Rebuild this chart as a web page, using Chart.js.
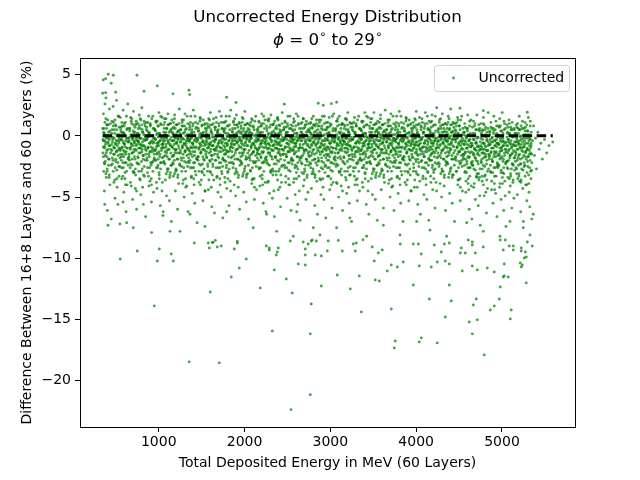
<!DOCTYPE html>
<html>
<head>
<meta charset="utf-8">
<script src="https://cdn.jsdelivr.net/npm/chart.js@4.4.1/dist/chart.umd.min.js"></script>
<style>
  body { margin: 0; background: #fff; }
  canvas { display: block; }
</style>
</head>
<body>
<canvas id="mycanvas" width="640" height="480"></canvas>
<script>
// axis ticks
var xTicks = [1000, 2000, 3000, 4000, 5000];
var yTicks = [5, 0, -5, -10, -15, -20];

var titleText = ['Uncorrected Energy Distribution', '\u03d5 = 0\u00b0 to 29\u00b0'];
var seriesLabel = 'Uncorrected';
var refLevel = 0;

// band, read in 100 MeV slices (energy in MeV, difference in %)
var bandEnergy = [
  347,349,352,355,358,362,366,370,373,377,381,384,388,392,396,401,405,410,414,419,425,431,438,446,
  451,455,459,464,468,473,477,481,486,490,494,498,503,507,511,516,520,524,529,533,537,540,544,547,
  552,556,561,565,569,574,578,582,585,589,593,597,602,606,610,614,619,623,627,631,636,639,643,648,
  653,657,662,666,671,675,679,683,688,692,696,701,705,709,713,718,722,726,730,735,738,742,745,749,
  751,755,759,764,768,773,777,781,786,790,794,798,803,807,811,816,820,824,829,833,837,840,844,847,
  852,856,861,865,869,874,878,882,885,889,893,897,902,906,910,914,919,923,927,931,936,939,943,948,
  953,957,962,966,971,975,979,983,988,992,996,1001,1005,1009,1013,1018,1022,1026,1030,1035,1038,1042,1045,1049,
  1051,1055,1059,1064,1068,1073,1077,1081,1086,1090,1094,1098,1103,1107,1111,1116,1120,1124,1129,1133,1137,1140,1144,1147,
  1152,1156,1161,1165,1169,1174,1178,1182,1185,1189,1193,1197,1202,1206,1210,1214,1219,1223,1227,1231,1236,1239,1243,1248,
  1253,1257,1262,1266,1271,1275,1279,1283,1288,1292,1296,1301,1305,1309,1313,1318,1322,1326,1330,1335,1338,1342,1345,1349,
  1351,1355,1359,1364,1368,1373,1377,1381,1386,1390,1394,1398,1403,1407,1411,1416,1420,1424,1429,1433,1437,1440,1444,1447,
  1452,1456,1461,1465,1469,1474,1478,1482,1485,1489,1493,1497,1502,1506,1510,1514,1519,1523,1527,1531,1536,1539,1543,1548,
  1553,1557,1562,1566,1571,1575,1579,1583,1588,1592,1596,1601,1605,1609,1613,1618,1622,1626,1630,1635,1638,1642,1645,1649,
  1651,1655,1659,1664,1668,1673,1677,1681,1686,1690,1694,1698,1703,1707,1711,1716,1720,1724,1729,1733,1737,1740,1744,1747,
  1752,1756,1761,1765,1769,1774,1778,1782,1785,1789,1793,1797,1802,1806,1810,1814,1819,1823,1827,1831,1836,1839,1843,1848,
  1853,1857,1862,1866,1871,1875,1879,1883,1888,1892,1896,1901,1905,1909,1913,1918,1922,1926,1930,1935,1938,1942,1945,1949,
  1951,1955,1959,1964,1968,1973,1977,1981,1986,1990,1994,1998,2003,2007,2011,2016,2020,2024,2029,2033,2037,2040,2044,2047,
  2052,2056,2061,2065,2069,2074,2078,2082,2085,2089,2093,2097,2102,2106,2110,2114,2119,2123,2127,2131,2136,2139,2143,2148,
  2153,2157,2162,2166,2171,2175,2179,2183,2188,2192,2196,2201,2205,2209,2213,2218,2222,2226,2230,2235,2238,2242,2245,2249,
  2251,2255,2259,2264,2268,2273,2277,2281,2286,2290,2294,2298,2303,2307,2311,2316,2320,2324,2329,2333,2337,2340,2344,2347,
  2352,2356,2361,2365,2369,2374,2378,2382,2385,2389,2393,2397,2402,2406,2410,2414,2419,2423,2427,2431,2436,2439,2443,2448,
  2453,2457,2462,2466,2471,2475,2479,2483,2488,2492,2496,2501,2505,2509,2513,2518,2522,2526,2530,2535,2538,2542,2545,2549,
  2551,2555,2559,2564,2568,2573,2577,2581,2586,2590,2594,2598,2603,2607,2611,2616,2620,2624,2629,2633,2637,2640,2644,2647,
  2652,2656,2661,2665,2669,2674,2678,2682,2685,2689,2693,2697,2702,2706,2710,2714,2719,2723,2727,2731,2736,2739,2743,2748,
  2753,2757,2762,2766,2771,2775,2779,2783,2788,2792,2796,2801,2805,2809,2813,2818,2822,2826,2830,2835,2838,2842,2845,2849,
  2851,2855,2859,2864,2868,2873,2877,2881,2886,2890,2894,2898,2903,2907,2911,2916,2920,2924,2929,2933,2937,2940,2944,2947,
  2952,2956,2961,2965,2969,2974,2978,2982,2985,2989,2993,2997,3002,3006,3010,3014,3019,3023,3027,3031,3036,3039,3043,3048,
  3053,3057,3062,3066,3071,3075,3079,3083,3088,3092,3096,3101,3105,3109,3113,3118,3122,3126,3130,3135,3138,3142,3145,3149,
  3151,3155,3159,3164,3168,3173,3177,3181,3186,3190,3194,3198,3203,3207,3211,3216,3220,3224,3229,3233,3237,3240,3244,3247,
  3252,3256,3261,3265,3269,3274,3278,3282,3285,3289,3293,3297,3302,3306,3310,3314,3319,3323,3327,3331,3336,3339,3343,3348,
  3353,3357,3362,3366,3371,3375,3379,3383,3388,3392,3396,3401,3405,3409,3413,3418,3422,3426,3430,3435,3438,3442,3445,3449,
  3451,3455,3459,3464,3468,3473,3477,3481,3486,3490,3494,3498,3503,3507,3511,3516,3520,3524,3529,3533,3537,3540,3544,3547,
  3552,3556,3561,3565,3569,3574,3578,3582,3585,3589,3593,3597,3602,3606,3610,3614,3619,3623,3627,3631,3636,3639,3643,3648,
  3653,3657,3662,3666,3671,3675,3679,3683,3688,3692,3696,3701,3705,3709,3713,3718,3722,3726,3730,3735,3738,3742,3745,3749,
  3751,3755,3759,3764,3768,3773,3777,3781,3786,3790,3794,3798,3803,3807,3811,3816,3820,3824,3829,3833,3837,3840,3844,3847,
  3852,3856,3861,3865,3869,3874,3878,3882,3885,3889,3893,3897,3902,3906,3910,3914,3919,3923,3927,3931,3936,3939,3943,3948,
  3953,3957,3962,3966,3971,3975,3979,3983,3988,3992,3996,4001,4005,4009,4013,4018,4022,4026,4030,4035,4038,4042,4045,4049,
  4051,4055,4059,4064,4068,4073,4077,4081,4086,4090,4094,4098,4103,4107,4111,4116,4120,4124,4129,4133,4137,4140,4144,4147,
  4152,4156,4161,4165,4169,4174,4178,4182,4185,4189,4193,4197,4202,4206,4210,4214,4219,4223,4227,4231,4236,4239,4243,4248,
  4253,4257,4262,4266,4271,4275,4279,4283,4288,4292,4296,4301,4305,4309,4313,4318,4322,4326,4330,4335,4338,4342,4345,4349,
  4351,4355,4359,4364,4368,4373,4377,4381,4386,4390,4394,4398,4403,4407,4411,4416,4420,4424,4429,4433,4437,4440,4444,4447,
  4452,4456,4461,4465,4469,4474,4478,4482,4485,4489,4493,4497,4502,4506,4510,4514,4519,4523,4527,4531,4536,4539,4543,4548,
  4553,4557,4562,4566,4571,4575,4579,4583,4588,4592,4596,4601,4605,4609,4613,4618,4622,4626,4630,4635,4638,4642,4645,4649,
  4651,4655,4659,4664,4668,4673,4677,4681,4686,4690,4694,4698,4703,4707,4711,4716,4720,4724,4729,4733,4737,4740,4744,4747,
  4752,4756,4761,4765,4769,4774,4778,4782,4785,4789,4793,4797,4802,4806,4810,4814,4819,4823,4827,4831,4836,4839,4843,4848,
  4853,4857,4862,4866,4871,4875,4879,4883,4888,4892,4896,4901,4905,4909,4913,4918,4922,4926,4930,4935,4938,4942,4945,4949,
  4951,4955,4959,4964,4968,4973,4977,4981,4986,4990,4994,4998,5003,5007,5011,5016,5020,5024,5029,5033,5037,5040,5044,5047,
  5052,5056,5061,5065,5069,5074,5078,5082,5085,5089,5093,5097,5102,5106,5110,5114,5119,5123,5127,5131,5136,5139,5143,5148,
  5153,5157,5162,5166,5171,5175,5179,5183,5188,5192,5196,5201,5205,5209,5213,5218,5222,5226,5230,5235,5238,5242,5245,5249,
  5251,5255,5259,5264,5268,5273,5277,5281,5286,5290,5294,5298,5303,5307,5311,5316,5320,5324,5329,5333,5337,5340,5344,5347,
  5356,5368,5379,5391,5402,5418,5433,5452,5470,5496,5521,5548,5592
];
var bandDiff = [
  0.6,-1.4,-0.3,1.8,-2.9,0.2,-4.5,-0.9,2.6,-2.1,-0.5,3.1,-3.4,0.9,-1.7,-6.1,1.3,-0.2,-2.4,-0.8,2.2,-4.0,-1.1,-6.8,
  -0.7,1.2,-2.3,-0.1,2.4,-1.5,-3.8,0.5,-1.0,-5.1,0.9,-1.9,-0.4,2.9,-2.8,0.1,-1.2,-5.6,1.6,-0.6,-3.3,0.7,-2.5,-7.2,
  1.5,-1.0,0.3,-1.7,-3.5,0.8,-0.4,-2.2,2.1,-1.2,-4.6,0.2,-0.7,-3.0,1.1,-1.5,-6.2,-0.2,0.5,-4.0,-1.0,2.6,-2.4,-0.5,
  -1.5,0.6,-0.1,-2.6,1.5,-0.9,-4.1,1.0,-1.9,-0.3,-5.2,0.4,2.0,-1.3,-3.0,-0.6,0.7,-4.3,-1.1,-0.2,1.2,-6.0,-2.2,-0.4,
  0.2,-2.3,1.0,-0.5,-1.4,1.7,-3.5,-0.2,0.6,-4.8,-1.0,-0.8,2.3,-2.7,0.3,-1.6,-5.6,-0.3,1.2,-3.3,-0.9,0.8,-2.0,-6.6,
  -0.3,1.1,-1.8,0.4,-3.0,-0.1,-1.0,1.6,-4.1,0.2,-1.3,-3.7,0.9,-0.5,-2.4,-5.4,1.4,-1.1,0.0,-2.1,-0.6,-4.6,0.6,-1.5,
  0.5,-1.2,-0.3,1.2,-2.6,0.1,-4.3,-0.8,0.8,-1.9,-0.5,1.9,-3.2,0.2,-1.5,-5.7,1.0,-0.1,-2.2,-0.7,1.5,-3.8,-1.0,-6.5,
  -0.6,0.9,-2.1,-0.2,1.4,-1.3,-3.6,0.3,-0.9,-4.9,0.6,-1.7,-0.4,1.8,-2.7,0.0,-1.1,-5.3,1.0,-0.7,-3.0,0.5,-2.4,-7.0,
  1.3,-0.9,0.2,-1.6,-3.3,0.7,-0.4,-2.0,1.7,-1.1,-4.5,0.1,-0.6,-2.8,0.9,-1.4,-6.0,-0.2,0.4,-3.9,-1.0,2.2,-2.3,-0.5,
  -1.4,0.5,-0.1,-2.5,1.3,-0.8,-3.9,0.8,-1.8,-0.3,-5.0,0.3,1.8,-1.2,-2.9,-0.6,0.6,-4.1,-1.0,-0.2,1.0,-6.2,-2.1,-0.4,
  0.1,-2.2,0.9,-0.5,-1.3,1.6,-3.4,-0.2,0.5,-4.7,-1.0,-0.7,2.1,-2.6,0.3,-1.6,-5.5,-0.3,1.1,-3.2,-0.9,0.7,-1.9,-7.1,
  -0.3,1.0,-1.7,0.4,-2.9,-0.1,-0.9,1.5,-4.0,0.2,-1.3,-3.6,0.8,-0.5,-2.3,-5.3,1.3,-1.1,0.0,-2.0,-0.6,-4.5,0.6,-1.5,
  0.4,-1.3,-0.2,1.0,-2.5,0.0,-4.4,-0.9,0.7,-2.0,-0.6,1.9,-3.0,0.3,-1.6,-5.8,0.9,-0.1,-2.3,-0.8,1.4,-3.6,-1.1,-6.3,
  -0.5,0.7,-2.0,-0.3,1.5,-1.2,-3.4,0.4,-0.8,-4.6,0.5,-1.8,-0.4,2.0,-2.6,0.1,-1.0,-5.0,1.1,-0.6,-3.1,0.6,-2.5,-6.7,
  1.1,-0.8,0.3,-1.5,-3.4,0.6,-0.3,-2.1,1.6,-1.2,-4.3,0.0,-0.7,-2.9,0.8,-1.3,-5.7,-0.1,0.5,-3.7,-0.9,2.1,-2.2,-0.6,
  -1.3,0.4,-0.2,-2.6,1.2,-0.7,-4.0,0.9,-1.9,-0.4,-4.9,0.2,1.7,-1.1,-3.0,-0.5,0.7,-4.2,-1.0,-0.1,1.1,-6.0,-2.0,-0.3,
  0.2,-2.1,0.8,-0.6,-1.4,1.5,-3.3,-0.1,0.4,-4.6,-1.1,-0.8,2.0,-2.5,0.2,-1.7,-5.4,-0.2,1.0,-3.1,-0.8,0.6,-1.8,-6.8,
  -0.4,0.9,-1.6,0.3,-2.8,-0.2,-0.8,1.4,-3.9,0.1,-1.4,-3.5,0.7,-0.6,-2.2,-5.2,1.2,-1.0,0.0,-2.1,-0.5,-4.4,0.5,-1.4,
  0.3,-1.1,-0.4,1.2,-2.7,0.1,-4.1,-0.7,0.8,-1.8,-0.4,1.8,-3.2,0.3,-1.4,-5.5,1.0,-0.2,-2.1,-0.6,1.3,-3.8,-0.9,-6.2,
  -0.7,0.8,-2.2,-0.1,1.3,-1.4,-3.7,0.2,-1.0,-4.7,0.7,-1.6,-0.3,1.7,-2.8,0.0,-1.2,-5.1,0.9,-0.8,-2.9,0.4,-2.3,-6.6,
  1.2,-1.0,0.1,-1.7,-3.2,0.6,-0.5,-2.0,1.5,-1.1,-4.4,0.2,-0.6,-2.7,0.8,-1.5,-5.8,-0.3,0.4,-3.8,-1.1,1.9,-2.4,-0.4,
  -1.5,0.5,-0.2,-2.4,1.2,-0.9,-3.8,0.7,-1.7,-0.3,-5.1,0.3,1.6,-1.3,-2.8,-0.7,0.6,-4.0,-1.1,-0.1,0.9,-6.1,-2.0,-0.5,
  0.0,-2.3,0.8,-0.4,-1.2,1.4,-3.5,-0.3,0.5,-4.8,-0.9,-0.6,1.8,-2.5,0.2,-1.7,-5.6,-0.2,1.0,-3.3,-1.0,0.6,-2.0,-6.9,
  -0.2,1.0,-1.8,0.3,-3.0,-0.1,-1.0,1.4,-4.1,0.1,-1.2,-3.6,0.7,-0.4,-2.4,-5.2,1.2,-1.2,0.0,-2.1,-0.7,-4.6,0.5,-1.6,
  0.4,-1.3,-0.3,1.0,-2.6,0.2,-4.3,-0.8,0.7,-2.0,-0.5,1.6,-3.1,0.1,-1.5,-5.7,0.8,-0.1,-2.2,-0.7,1.3,-3.7,-1.0,-6.4,
  -0.6,0.8,-2.1,-0.2,1.3,-1.3,-3.5,0.3,-0.9,-4.8,0.6,-1.8,-0.4,1.6,-2.7,0.0,-1.1,-5.2,1.0,-0.7,-3.0,0.5,-2.4,-6.7,
  1.1,-0.9,0.2,-1.6,-3.3,0.7,-0.4,-2.0,1.5,-1.1,-4.4,0.1,-0.6,-2.8,0.9,-1.4,-5.9,-0.2,0.4,-3.8,-1.0,1.8,-2.3,-0.5,
  -1.4,0.5,-0.1,-2.5,1.2,-0.8,-3.9,0.8,-1.8,-0.3,-5.0,0.3,1.6,-1.2,-2.9,-0.6,0.6,-4.1,-1.0,-0.2,1.0,-6.1,-2.1,-0.4,
  0.1,-2.2,0.9,-0.5,-1.3,1.4,-3.4,-0.2,0.5,-4.7,-1.0,-0.7,1.9,-2.6,0.3,-1.6,-5.5,-0.3,1.1,-3.2,-0.9,0.7,-1.9,-7.0,
  -0.3,1.0,-1.7,0.4,-2.9,-0.1,-0.9,1.5,-4.0,0.2,-1.3,-3.6,0.8,-0.5,-2.3,-5.3,1.3,-1.1,0.0,-2.0,-0.6,-4.5,0.6,-1.5,
  0.5,-1.2,-0.3,1.2,-2.6,0.1,-4.2,-0.8,0.7,-1.9,-0.5,1.9,-3.1,0.2,-1.5,-5.6,0.9,-0.1,-2.2,-0.7,1.5,-3.7,-1.0,-6.4,
  -0.6,0.8,-2.1,-0.2,1.4,-1.3,-3.5,0.3,-0.9,-4.8,0.6,-1.7,-0.4,1.9,-2.7,0.0,-1.1,-5.2,1.0,-0.7,-3.0,0.5,-2.4,-6.9,
  1.2,-0.9,0.2,-1.6,-3.3,0.7,-0.4,-2.0,1.7,-1.1,-4.4,0.1,-0.6,-2.8,0.9,-1.4,-5.9,-0.2,0.4,-3.8,-1.0,2.1,-2.3,-0.5,
  -1.4,0.5,-0.1,-2.5,1.3,-0.8,-3.9,0.8,-1.8,-0.3,-5.0,0.3,1.8,-1.2,-2.9,-0.6,0.6,-4.1,-1.0,-0.2,1.0,-6.1,-2.1,-0.4,
  0.1,-2.2,0.9,-0.5,-1.3,1.6,-3.4,-0.2,0.5,-4.7,-1.0,-0.7,2.0,-2.6,0.3,-1.6,-5.5,-0.3,1.1,-3.2,-0.9,0.7,-1.9,-7.0,
  -0.3,1.0,-1.7,0.4,-2.9,-0.1,-0.9,1.5,-4.0,0.2,-1.3,-3.6,0.8,-0.5,-2.3,-5.3,1.3,-1.1,0.0,-2.0,-0.6,-4.5,0.6,-1.5,
  0.4,-1.2,-0.3,1.1,-2.6,0.1,-4.2,-0.8,0.7,-1.9,-0.5,2.0,-3.1,0.2,-1.5,-5.6,0.9,-0.1,-2.2,-0.7,1.5,-3.7,-1.0,-6.4,
  -0.6,0.8,-2.1,-0.2,1.4,-1.3,-3.5,0.3,-0.9,-4.8,0.6,-1.7,-0.4,1.9,-2.7,0.0,-1.1,-5.2,1.0,-0.7,-3.0,0.5,-2.4,-6.9,
  1.2,-0.9,0.2,-1.6,-3.3,0.7,-0.4,-2.0,1.7,-1.1,-4.4,0.1,-0.6,-2.8,0.9,-1.4,-5.9,-0.2,0.4,-3.8,-1.0,2.3,-2.3,-0.5,
  -1.4,0.5,-0.1,-2.5,1.3,-0.8,-3.9,0.8,-1.8,-0.3,-5.0,0.3,1.8,-1.2,-2.9,-0.6,0.6,-4.1,-1.0,-0.2,1.0,-6.1,-2.1,-0.4,
  0.1,-2.2,0.9,-0.5,-1.3,1.6,-3.4,-0.2,0.5,-4.7,-1.0,-0.7,2.2,-2.6,0.3,-1.6,-5.5,-0.3,1.1,-3.2,-0.9,0.7,-1.9,-7.0,
  -0.3,1.0,-1.7,0.4,-2.9,-0.1,-0.9,1.5,-4.0,0.2,-1.3,-3.6,0.8,-0.5,-2.3,-5.3,1.3,-1.1,0.0,-2.0,-0.6,-4.5,0.6,-1.5,
  0.3,-1.5,-0.4,1.0,-2.9,0.0,-4.6,-1.0,0.6,-2.3,-0.7,1.7,-3.5,0.1,-1.8,-6.0,0.8,-0.3,-2.6,-0.9,1.3,-4.1,-1.3,-6.8,
  -0.8,0.7,-2.4,-0.3,1.2,-1.6,-3.9,0.2,-1.1,-5.2,0.5,-2.0,-0.6,1.7,-3.1,-0.1,-1.4,-5.7,0.9,-0.9,-3.4,0.4,-2.7,-7.3,
  1.0,-1.1,0.1,-1.9,-3.7,0.5,-0.6,-2.4,1.5,-1.4,-4.9,0.0,-0.8,-3.2,0.7,-1.7,-6.3,-0.4,0.3,-4.3,-1.2,1.9,-2.7,-0.7,
  -1.7,0.4,-0.3,-2.9,1.1,-1.0,-4.4,0.6,-2.1,-0.5,-5.5,0.2,1.6,-1.5,-3.3,-0.8,0.5,-4.7,-1.3,-0.3,0.8,-6.6,-2.5,-0.6,
  -0.1,-2.6,0.8,-0.7,-1.6,1.4,-3.9,-0.4,0.4,-5.2,-1.2,-0.9,1.9,-3.0,0.2,-1.9,-6.1,-0.5,1.0,-3.7,-1.1,0.6,-2.3,-7.4,
  -0.5,0.9,-2.1,0.3,-3.4,-0.3,-1.2,1.3,-4.6,0.1,-1.6,-4.1,0.7,-0.7,-2.7,-5.9,1.1,-1.4,-0.1,-2.4,-0.8,-5.1,0.5,-1.8,
  0.2,-1.6,-0.5,0.9,-3.1,-0.1,-4.8,-1.1,0.6,-2.4,-0.7,1.6,-3.7,0.0,-1.9,-6.2,0.8,-0.3,-2.7,-1.0,1.2,-4.3,-1.3,-7.0,
  -0.9,0.6,-2.5,-0.4,1.1,-1.7,-4.0,0.1,-1.2,-5.3,0.4,-2.1,-0.6,1.5,-3.2,-0.2,-1.5,-5.8,0.8,-1.0,-3.5,0.3,-2.8,-6.8,
  -0.4,0.8,-1.6,-0.2,-2.7,0.3,-1.1,-0.6,-1.9,-0.3,-1.4,-0.8,-0.5
];

// core of the band, read in 200 MeV slices
var coreEnergy = [
  354,359,363,367,372,376,381,384,391,395,399,404,408,412,417,421,425,431,438,445,450,458,460,469,470,477,480,487,489,497,500,506,510,515,518,527,532,536,541,546,
  554,559,563,567,572,576,581,584,591,595,599,604,608,612,617,621,625,631,638,645,650,658,660,669,670,677,680,687,689,697,700,706,710,715,718,727,732,736,741,746,
  754,759,763,767,772,776,781,784,791,795,799,804,808,812,817,821,825,831,838,845,850,858,860,869,870,877,880,887,889,897,900,906,910,915,918,927,932,936,941,946,
  954,959,963,967,972,976,981,984,991,995,999,1004,1008,1012,1017,1021,1025,1031,1038,1045,1050,1058,1060,1069,1070,1077,1080,1087,1089,1097,1100,1106,1110,1115,1118,1127,1132,1136,1141,1146,
  1154,1159,1163,1167,1172,1176,1181,1184,1191,1195,1199,1204,1208,1212,1217,1221,1225,1231,1238,1245,1250,1258,1260,1269,1270,1277,1280,1287,1289,1297,1300,1306,1310,1315,1318,1327,1332,1336,1341,1346,
  1354,1359,1363,1367,1372,1376,1381,1384,1391,1395,1399,1404,1408,1412,1417,1421,1425,1431,1438,1445,1450,1458,1460,1469,1470,1477,1480,1487,1489,1497,1500,1506,1510,1515,1518,1527,1532,1536,1541,1546,
  1554,1559,1563,1567,1572,1576,1581,1584,1591,1595,1599,1604,1608,1612,1617,1621,1625,1631,1638,1645,1650,1658,1660,1669,1670,1677,1680,1687,1689,1697,1700,1706,1710,1715,1718,1727,1732,1736,1741,1746,
  1754,1759,1763,1767,1772,1776,1781,1784,1791,1795,1799,1804,1808,1812,1817,1821,1825,1831,1838,1845,1850,1858,1860,1869,1870,1877,1880,1887,1889,1897,1900,1906,1910,1915,1918,1927,1932,1936,1941,1946,
  1954,1959,1963,1967,1972,1976,1981,1984,1991,1995,1999,2004,2008,2012,2017,2021,2025,2031,2038,2045,2050,2058,2060,2069,2070,2077,2080,2087,2089,2097,2100,2106,2110,2115,2118,2127,2132,2136,2141,2146,
  2154,2159,2163,2167,2172,2176,2181,2184,2191,2195,2199,2204,2208,2212,2217,2221,2225,2231,2238,2245,2250,2258,2260,2269,2270,2277,2280,2287,2289,2297,2300,2306,2310,2315,2318,2327,2332,2336,2341,2346,
  2354,2359,2363,2367,2372,2376,2381,2384,2391,2395,2399,2404,2408,2412,2417,2421,2425,2431,2438,2445,2450,2458,2460,2469,2470,2477,2480,2487,2489,2497,2500,2506,2510,2515,2518,2527,2532,2536,2541,2546,
  2554,2559,2563,2567,2572,2576,2581,2584,2591,2595,2599,2604,2608,2612,2617,2621,2625,2631,2638,2645,2650,2658,2660,2669,2670,2677,2680,2687,2689,2697,2700,2706,2710,2715,2718,2727,2732,2736,2741,2746,
  2754,2759,2763,2767,2772,2776,2781,2784,2791,2795,2799,2804,2808,2812,2817,2821,2825,2831,2838,2845,2850,2858,2860,2869,2870,2877,2880,2887,2889,2897,2900,2906,2910,2915,2918,2927,2932,2936,2941,2946,
  2954,2959,2963,2967,2972,2976,2981,2984,2991,2995,2999,3004,3008,3012,3017,3021,3025,3031,3038,3045,3050,3058,3060,3069,3070,3077,3080,3087,3089,3097,3100,3106,3110,3115,3118,3127,3132,3136,3141,3146,
  3154,3159,3163,3167,3172,3176,3181,3184,3191,3195,3199,3204,3208,3212,3217,3221,3225,3231,3238,3245,3250,3258,3260,3269,3270,3277,3280,3287,3289,3297,3300,3306,3310,3315,3318,3327,3332,3336,3341,3346,
  3354,3359,3363,3367,3372,3376,3381,3384,3391,3395,3399,3404,3408,3412,3417,3421,3425,3431,3438,3445,3450,3458,3460,3469,3470,3477,3480,3487,3489,3497,3500,3506,3510,3515,3518,3527,3532,3536,3541,3546,
  3554,3559,3563,3567,3572,3576,3581,3584,3591,3595,3599,3604,3608,3612,3617,3621,3625,3631,3638,3645,3650,3658,3660,3669,3670,3677,3680,3687,3689,3697,3700,3706,3710,3715,3718,3727,3732,3736,3741,3746,
  3754,3759,3763,3767,3772,3776,3781,3784,3791,3795,3799,3804,3808,3812,3817,3821,3825,3831,3838,3845,3850,3858,3860,3869,3870,3877,3880,3887,3889,3897,3900,3906,3910,3915,3918,3927,3932,3936,3941,3946,
  3954,3959,3963,3967,3972,3976,3981,3984,3991,3995,3999,4004,4008,4012,4017,4021,4025,4031,4038,4045,4050,4058,4060,4069,4070,4077,4080,4087,4089,4097,4100,4106,4110,4115,4118,4127,4132,4136,4141,4146,
  4154,4159,4163,4167,4172,4176,4181,4184,4191,4195,4199,4204,4208,4212,4217,4221,4225,4231,4238,4245,4250,4258,4260,4269,4270,4277,4280,4287,4289,4297,4300,4306,4310,4315,4318,4327,4332,4336,4341,4346,
  4354,4359,4363,4367,4372,4376,4381,4384,4391,4395,4399,4404,4408,4412,4417,4421,4425,4431,4438,4445,4450,4458,4460,4469,4470,4477,4480,4487,4489,4497,4500,4506,4510,4515,4518,4527,4532,4536,4541,4546,
  4554,4559,4563,4567,4572,4576,4581,4584,4591,4595,4599,4604,4608,4612,4617,4621,4625,4631,4638,4645,4650,4658,4660,4669,4670,4677,4680,4687,4689,4697,4700,4706,4710,4715,4718,4727,4732,4736,4741,4746,
  4754,4759,4763,4767,4772,4776,4781,4784,4791,4795,4799,4804,4808,4812,4817,4821,4825,4831,4838,4845,4850,4858,4860,4869,4870,4877,4880,4887,4889,4897,4900,4906,4910,4915,4918,4927,4932,4936,4941,4946,
  4954,4959,4963,4967,4972,4976,4981,4984,4991,4995,4999,5004,5008,5012,5017,5021,5025,5031,5038,5045,5050,5058,5060,5069,5070,5077,5080,5087,5089,5097,5100,5106,5110,5115,5118,5127,5132,5136,5141,5146,
  5154,5159,5163,5167,5172,5176,5181,5184,5191,5195,5199,5204,5208,5212,5217,5221,5225,5231,5238,5245,5250,5258,5260,5269,5270,5277,5280,5287,5289,5297,5300,5306,5310,5315,5318,5327,5332,5336,5341,5346
];
var coreDiff = [
  -0.9,0.3,-2.2,-0.4,1.1,-1.6,-0.1,-3.1,0.6,-1.2,-2.7,0.0,-0.6,0.9,-1.9,-3.4,-0.3,0.4,-1.4,-2.4,0.2,-1.8,-0.5,-2.9,0.8,-1.0,-0.2,-3.6,1.3,-0.7,-2.1,-1.3,0.5,-4.2,-0.8,-1.6,0.1,-2.5,-0.4,-1.1,
  -1.5,-0.3,0.7,-2.6,-1.0,-0.1,-3.3,0.3,-1.7,-0.6,1.0,-2.2,-0.9,-4.0,0.0,-1.3,-2.9,0.6,-0.5,-1.9,-0.2,-2.0,0.4,-1.1,-3.8,-0.6,1.2,-1.4,-2.4,-0.1,-0.8,-3.0,0.2,-1.7,-0.4,-2.7,0.9,-1.2,-4.5,-0.7,
  0.2,-1.8,-0.5,-2.9,0.8,-1.0,-0.2,-3.6,1.3,-0.7,-2.1,-1.3,0.5,-4.2,-0.8,-1.6,0.1,-2.5,-0.4,-1.1,-1.5,-0.3,0.7,-2.6,-1.0,-0.1,-3.3,0.3,-1.7,-0.6,1.0,-2.2,-0.9,-4.0,0.0,-1.3,-2.9,0.6,-0.5,-1.9,
  -0.2,-2.0,0.4,-1.1,-3.8,-0.6,1.2,-1.4,-2.4,-0.1,-0.8,-3.0,0.2,-1.7,-0.4,-2.7,0.9,-1.2,-4.5,-0.7,-0.9,0.3,-2.2,-0.4,1.1,-1.6,-0.1,-3.1,0.6,-1.2,-2.7,0.0,-0.6,0.9,-1.9,-3.4,-0.3,0.4,-1.4,-2.4,
  -0.9,0.3,-2.2,-0.4,1.1,-1.6,-0.1,-3.1,0.6,-1.2,-2.7,0.0,-0.6,0.9,-1.9,-3.4,-0.3,0.4,-1.4,-2.4,0.2,-1.8,-0.5,-2.9,0.8,-1.0,-0.2,-3.6,1.3,-0.7,-2.1,-1.3,0.5,-4.2,-0.8,-1.6,0.1,-2.5,-0.4,-1.1,
  -1.5,-0.3,0.7,-2.6,-1.0,-0.1,-3.3,0.3,-1.7,-0.6,1.0,-2.2,-0.9,-4.0,0.0,-1.3,-2.9,0.6,-0.5,-1.9,-0.2,-2.0,0.4,-1.1,-3.8,-0.6,1.2,-1.4,-2.4,-0.1,-0.8,-3.0,0.2,-1.7,-0.4,-2.7,0.9,-1.2,-4.5,-0.7,
  0.2,-1.8,-0.5,-2.9,0.8,-1.0,-0.2,-3.6,1.3,-0.7,-2.1,-1.3,0.5,-4.2,-0.8,-1.6,0.1,-2.5,-0.4,-1.1,-1.5,-0.3,0.7,-2.6,-1.0,-0.1,-3.3,0.3,-1.7,-0.6,1.0,-2.2,-0.9,-4.0,0.0,-1.3,-2.9,0.6,-0.5,-1.9,
  -0.2,-2.0,0.4,-1.1,-3.8,-0.6,1.2,-1.4,-2.4,-0.1,-0.8,-3.0,0.2,-1.7,-0.4,-2.7,0.9,-1.2,-4.5,-0.7,-0.9,0.3,-2.2,-0.4,1.1,-1.6,-0.1,-3.1,0.6,-1.2,-2.7,0.0,-0.6,0.9,-1.9,-3.4,-0.3,0.4,-1.4,-2.4,
  -0.9,0.3,-2.2,-0.4,1.1,-1.6,-0.1,-3.1,0.6,-1.2,-2.7,0.0,-0.6,0.9,-1.9,-3.4,-0.3,0.4,-1.4,-2.4,0.2,-1.8,-0.5,-2.9,0.8,-1.0,-0.2,-3.6,1.3,-0.7,-2.1,-1.3,0.5,-4.2,-0.8,-1.6,0.1,-2.5,-0.4,-1.1,
  -1.5,-0.3,0.7,-2.6,-1.0,-0.1,-3.3,0.3,-1.7,-0.6,1.0,-2.2,-0.9,-4.0,0.0,-1.3,-2.9,0.6,-0.5,-1.9,-0.2,-2.0,0.4,-1.1,-3.8,-0.6,1.2,-1.4,-2.4,-0.1,-0.8,-3.0,0.2,-1.7,-0.4,-2.7,0.9,-1.2,-4.5,-0.7,
  0.2,-1.8,-0.5,-2.9,0.8,-1.0,-0.2,-3.6,1.3,-0.7,-2.1,-1.3,0.5,-4.2,-0.8,-1.6,0.1,-2.5,-0.4,-1.1,-1.5,-0.3,0.7,-2.6,-1.0,-0.1,-3.3,0.3,-1.7,-0.6,1.0,-2.2,-0.9,-4.0,0.0,-1.3,-2.9,0.6,-0.5,-1.9,
  -0.2,-2.0,0.4,-1.1,-3.8,-0.6,1.2,-1.4,-2.4,-0.1,-0.8,-3.0,0.2,-1.7,-0.4,-2.7,0.9,-1.2,-4.5,-0.7,-0.9,0.3,-2.2,-0.4,1.1,-1.6,-0.1,-3.1,0.6,-1.2,-2.7,0.0,-0.6,0.9,-1.9,-3.4,-0.3,0.4,-1.4,-2.4,
  -0.9,0.3,-2.2,-0.4,1.1,-1.6,-0.1,-3.1,0.6,-1.2,-2.7,0.0,-0.6,0.9,-1.9,-3.4,-0.3,0.4,-1.4,-2.4,0.2,-1.8,-0.5,-2.9,0.8,-1.0,-0.2,-3.6,1.3,-0.7,-2.1,-1.3,0.5,-4.2,-0.8,-1.6,0.1,-2.5,-0.4,-1.1,
  -1.5,-0.3,0.7,-2.6,-1.0,-0.1,-3.3,0.3,-1.7,-0.6,1.0,-2.2,-0.9,-4.0,0.0,-1.3,-2.9,0.6,-0.5,-1.9,-0.2,-2.0,0.4,-1.1,-3.8,-0.6,1.2,-1.4,-2.4,-0.1,-0.8,-3.0,0.2,-1.7,-0.4,-2.7,0.9,-1.2,-4.5,-0.7,
  0.2,-1.8,-0.5,-2.9,0.8,-1.0,-0.2,-3.6,1.3,-0.7,-2.1,-1.3,0.5,-4.2,-0.8,-1.6,0.1,-2.5,-0.4,-1.1,-1.5,-0.3,0.7,-2.6,-1.0,-0.1,-3.3,0.3,-1.7,-0.6,1.0,-2.2,-0.9,-4.0,0.0,-1.3,-2.9,0.6,-0.5,-1.9,
  -0.2,-2.0,0.4,-1.1,-3.8,-0.6,1.2,-1.4,-2.4,-0.1,-0.8,-3.0,0.2,-1.7,-0.4,-2.7,0.9,-1.2,-4.5,-0.7,-0.9,0.3,-2.2,-0.4,1.1,-1.6,-0.1,-3.1,0.6,-1.2,-2.7,0.0,-0.6,0.9,-1.9,-3.4,-0.3,0.4,-1.4,-2.4,
  -0.9,0.3,-2.2,-0.4,1.1,-1.6,-0.1,-3.1,0.6,-1.2,-2.7,0.0,-0.6,0.9,-1.9,-3.4,-0.3,0.4,-1.4,-2.4,0.2,-1.8,-0.5,-2.9,0.8,-1.0,-0.2,-3.6,1.3,-0.7,-2.1,-1.3,0.5,-4.2,-0.8,-1.6,0.1,-2.5,-0.4,-1.1,
  -1.5,-0.3,0.7,-2.6,-1.0,-0.1,-3.3,0.3,-1.7,-0.6,1.0,-2.2,-0.9,-4.0,0.0,-1.3,-2.9,0.6,-0.5,-1.9,-0.2,-2.0,0.4,-1.1,-3.8,-0.6,1.2,-1.4,-2.4,-0.1,-0.8,-3.0,0.2,-1.7,-0.4,-2.7,0.9,-1.2,-4.5,-0.7,
  0.2,-1.8,-0.5,-2.9,0.8,-1.0,-0.2,-3.6,1.3,-0.7,-2.1,-1.3,0.5,-4.2,-0.8,-1.6,0.1,-2.5,-0.4,-1.1,-1.5,-0.3,0.7,-2.6,-1.0,-0.1,-3.3,0.3,-1.7,-0.6,1.0,-2.2,-0.9,-4.0,0.0,-1.3,-2.9,0.6,-0.5,-1.9,
  -0.2,-2.0,0.4,-1.1,-3.8,-0.6,1.2,-1.4,-2.4,-0.1,-0.8,-3.0,0.2,-1.7,-0.4,-2.7,0.9,-1.2,-4.5,-0.7,-0.9,0.3,-2.2,-0.4,1.1,-1.6,-0.1,-3.1,0.6,-1.2,-2.7,0.0,-0.6,0.9,-1.9,-3.4,-0.3,0.4,-1.4,-2.4,
  -0.9,0.3,-2.2,-0.4,1.1,-1.6,-0.1,-3.1,0.6,-1.2,-2.7,0.0,-0.6,0.9,-1.9,-3.4,-0.3,0.4,-1.4,-2.4,0.2,-1.8,-0.5,-2.9,0.8,-1.0,-0.2,-3.6,1.3,-0.7,-2.1,-1.3,0.5,-4.2,-0.8,-1.6,0.1,-2.5,-0.4,-1.1,
  -1.9,-0.7,0.3,-3.0,-1.4,-0.5,-3.7,-0.1,-2.1,-1.0,0.6,-2.6,-1.3,-4.4,-0.4,-1.7,-3.3,0.2,-0.9,-2.3,-0.6,-2.4,0.0,-1.5,-4.2,-1.0,0.8,-1.8,-2.8,-0.5,-1.2,-3.4,-0.2,-2.1,-0.8,-3.1,0.5,-1.6,-4.9,-1.1,
  -0.2,-2.2,-0.9,-3.3,0.4,-1.4,-0.6,-4.0,0.9,-1.1,-2.5,-1.7,0.1,-4.6,-1.2,-2.0,-0.3,-2.9,-0.8,-1.5,-1.9,-0.7,0.3,-3.0,-1.4,-0.5,-3.7,-0.1,-2.1,-1.0,0.6,-2.6,-1.3,-4.4,-0.4,-1.7,-3.3,0.2,-0.9,-2.3,
  -0.6,-2.4,0.0,-1.5,-4.2,-1.0,0.8,-1.8,-2.8,-0.5,-1.2,-3.4,-0.2,-2.1,-0.8,-3.1,0.5,-1.6,-4.9,-1.1,-1.3,-0.1,-2.6,-0.8,0.7,-2.0,-0.5,-3.5,0.2,-1.6,-3.1,-0.4,-1.0,0.5,-2.3,-3.8,-0.7,0.0,-1.8,-2.8,
  -1.3,-0.1,-2.6,-0.8,0.7,-2.0,-0.5,-3.5,0.2,-1.6,-3.1,-0.4,-1.0,0.5,-2.3,-3.8,-0.7,0.0,-1.8,-2.8,-0.2,-2.2,-0.9,-3.3,0.4,-1.4,-0.6,-4.0,0.9,-1.1,-2.5,-1.7,0.1,-4.6,-1.2,-2.0,-0.3,-2.9,-0.8,-1.5
];

// second pass over the core, read in 200 MeV slices
var core2Energy = [
  352,356,361,365,370,374,378,383,387,393,397,402,406,411,415,420,423,429,436,442,453,456,462,466,472,475,483,485,492,494,502,505,512,513,521,523,530,534,539,548,
  552,556,561,565,570,574,578,583,587,593,597,602,606,611,615,620,623,629,636,642,653,656,662,666,672,675,683,685,692,694,702,705,712,713,721,723,730,734,739,748,
  752,756,761,765,770,774,778,783,787,793,797,802,806,811,815,820,823,829,836,842,853,856,862,866,872,875,883,885,892,894,902,905,912,913,921,923,930,934,939,948,
  952,956,961,965,970,974,978,983,987,993,997,1002,1006,1011,1015,1020,1023,1029,1036,1042,1053,1056,1062,1066,1072,1075,1083,1085,1092,1094,1102,1105,1112,1113,1121,1123,1130,1134,1139,1148,
  1152,1156,1161,1165,1170,1174,1178,1183,1187,1193,1197,1202,1206,1211,1215,1220,1223,1229,1236,1242,1253,1256,1262,1266,1272,1275,1283,1285,1292,1294,1302,1305,1312,1313,1321,1323,1330,1334,1339,1348,
  1352,1356,1361,1365,1370,1374,1378,1383,1387,1393,1397,1402,1406,1411,1415,1420,1423,1429,1436,1442,1453,1456,1462,1466,1472,1475,1483,1485,1492,1494,1502,1505,1512,1513,1521,1523,1530,1534,1539,1548,
  1552,1556,1561,1565,1570,1574,1578,1583,1587,1593,1597,1602,1606,1611,1615,1620,1623,1629,1636,1642,1653,1656,1662,1666,1672,1675,1683,1685,1692,1694,1702,1705,1712,1713,1721,1723,1730,1734,1739,1748,
  1752,1756,1761,1765,1770,1774,1778,1783,1787,1793,1797,1802,1806,1811,1815,1820,1823,1829,1836,1842,1853,1856,1862,1866,1872,1875,1883,1885,1892,1894,1902,1905,1912,1913,1921,1923,1930,1934,1939,1948,
  1952,1956,1961,1965,1970,1974,1978,1983,1987,1993,1997,2002,2006,2011,2015,2020,2023,2029,2036,2042,2053,2056,2062,2066,2072,2075,2083,2085,2092,2094,2102,2105,2112,2113,2121,2123,2130,2134,2139,2148,
  2152,2156,2161,2165,2170,2174,2178,2183,2187,2193,2197,2202,2206,2211,2215,2220,2223,2229,2236,2242,2253,2256,2262,2266,2272,2275,2283,2285,2292,2294,2302,2305,2312,2313,2321,2323,2330,2334,2339,2348,
  2352,2356,2361,2365,2370,2374,2378,2383,2387,2393,2397,2402,2406,2411,2415,2420,2423,2429,2436,2442,2453,2456,2462,2466,2472,2475,2483,2485,2492,2494,2502,2505,2512,2513,2521,2523,2530,2534,2539,2548,
  2552,2556,2561,2565,2570,2574,2578,2583,2587,2593,2597,2602,2606,2611,2615,2620,2623,2629,2636,2642,2653,2656,2662,2666,2672,2675,2683,2685,2692,2694,2702,2705,2712,2713,2721,2723,2730,2734,2739,2748,
  2752,2756,2761,2765,2770,2774,2778,2783,2787,2793,2797,2802,2806,2811,2815,2820,2823,2829,2836,2842,2853,2856,2862,2866,2872,2875,2883,2885,2892,2894,2902,2905,2912,2913,2921,2923,2930,2934,2939,2948,
  2952,2956,2961,2965,2970,2974,2978,2983,2987,2993,2997,3002,3006,3011,3015,3020,3023,3029,3036,3042,3053,3056,3062,3066,3072,3075,3083,3085,3092,3094,3102,3105,3112,3113,3121,3123,3130,3134,3139,3148,
  3152,3156,3161,3165,3170,3174,3178,3183,3187,3193,3197,3202,3206,3211,3215,3220,3223,3229,3236,3242,3253,3256,3262,3266,3272,3275,3283,3285,3292,3294,3302,3305,3312,3313,3321,3323,3330,3334,3339,3348,
  3352,3356,3361,3365,3370,3374,3378,3383,3387,3393,3397,3402,3406,3411,3415,3420,3423,3429,3436,3442,3453,3456,3462,3466,3472,3475,3483,3485,3492,3494,3502,3505,3512,3513,3521,3523,3530,3534,3539,3548,
  3552,3556,3561,3565,3570,3574,3578,3583,3587,3593,3597,3602,3606,3611,3615,3620,3623,3629,3636,3642,3653,3656,3662,3666,3672,3675,3683,3685,3692,3694,3702,3705,3712,3713,3721,3723,3730,3734,3739,3748,
  3752,3756,3761,3765,3770,3774,3778,3783,3787,3793,3797,3802,3806,3811,3815,3820,3823,3829,3836,3842,3853,3856,3862,3866,3872,3875,3883,3885,3892,3894,3902,3905,3912,3913,3921,3923,3930,3934,3939,3948,
  3952,3956,3961,3965,3970,3974,3978,3983,3987,3993,3997,4002,4006,4011,4015,4020,4023,4029,4036,4042,4053,4056,4062,4066,4072,4075,4083,4085,4092,4094,4102,4105,4112,4113,4121,4123,4130,4134,4139,4148,
  4152,4156,4161,4165,4170,4174,4178,4183,4187,4193,4197,4202,4206,4211,4215,4220,4223,4229,4236,4242,4253,4256,4262,4266,4272,4275,4283,4285,4292,4294,4302,4305,4312,4313,4321,4323,4330,4334,4339,4348,
  4352,4356,4361,4365,4370,4374,4378,4383,4387,4393,4397,4402,4406,4411,4415,4420,4423,4429,4436,4442,4453,4456,4462,4466,4472,4475,4483,4485,4492,4494,4502,4505,4512,4513,4521,4523,4530,4534,4539,4548,
  4552,4556,4561,4565,4570,4574,4578,4583,4587,4593,4597,4602,4606,4611,4615,4620,4623,4629,4636,4642,4653,4656,4662,4666,4672,4675,4683,4685,4692,4694,4702,4705,4712,4713,4721,4723,4730,4734,4739,4748,
  4752,4756,4761,4765,4770,4774,4778,4783,4787,4793,4797,4802,4806,4811,4815,4820,4823,4829,4836,4842,4853,4856,4862,4866,4872,4875,4883,4885,4892,4894,4902,4905,4912,4913,4921,4923,4930,4934,4939,4948,
  4952,4956,4961,4965,4970,4974,4978,4983,4987,4993,4997,5002,5006,5011,5015,5020,5023,5029,5036,5042,5053,5056,5062,5066,5072,5075,5083,5085,5092,5094,5102,5105,5112,5113,5121,5123,5130,5134,5139,5148,
  5152,5156,5161,5165,5170,5174,5178,5183,5187,5193,5197,5202,5206,5211,5215,5220,5223,5229,5236,5242,5253,5256,5262,5266,5272,5275,5283,5285,5292,5294,5302,5305,5312,5313,5321,5323,5330,5334,5339,5348
];
var core2Diff = [
  -0.4,-1.7,0.6,-1.0,-2.3,0.1,-0.7,1.4,-1.4,-0.2,-2.9,0.9,-1.1,-0.5,0.3,-1.9,-3.2,-0.8,1.0,-0.1,-1.2,0.5,-0.3,-2.0,1.1,-0.9,-1.5,0.2,-2.6,-0.6,0.8,-1.3,-3.5,0.0,-0.4,-2.2,1.6,-1.0,-0.2,-1.8,
  -1.2,0.5,-0.3,-2.0,1.1,-0.9,-1.5,0.2,-2.6,-0.6,0.8,-1.3,-3.5,0.0,-0.4,-2.2,1.6,-1.0,-0.2,-1.8,-0.4,-1.7,0.6,-1.0,-2.3,0.1,-0.7,1.4,-1.4,-0.2,-2.9,0.9,-1.1,-0.5,0.3,-1.9,-3.2,-0.8,1.0,-0.1,
  -0.4,-1.7,0.6,-1.0,-2.3,0.1,-0.7,1.4,-1.4,-0.2,-2.9,0.9,-1.1,-0.5,0.3,-1.9,-3.2,-0.8,1.0,-0.1,-1.2,0.5,-0.3,-2.0,1.1,-0.9,-1.5,0.2,-2.6,-0.6,0.8,-1.3,-3.5,0.0,-0.4,-2.2,1.6,-1.0,-0.2,-1.8,
  -1.2,0.5,-0.3,-2.0,1.1,-0.9,-1.5,0.2,-2.6,-0.6,0.8,-1.3,-3.5,0.0,-0.4,-2.2,1.6,-1.0,-0.2,-1.8,-0.4,-1.7,0.6,-1.0,-2.3,0.1,-0.7,1.4,-1.4,-0.2,-2.9,0.9,-1.1,-0.5,0.3,-1.9,-3.2,-0.8,1.0,-0.1,
  -0.4,-1.7,0.6,-1.0,-2.3,0.1,-0.7,1.4,-1.4,-0.2,-2.9,0.9,-1.1,-0.5,0.3,-1.9,-3.2,-0.8,1.0,-0.1,-1.2,0.5,-0.3,-2.0,1.1,-0.9,-1.5,0.2,-2.6,-0.6,0.8,-1.3,-3.5,0.0,-0.4,-2.2,1.6,-1.0,-0.2,-1.8,
  -1.2,0.5,-0.3,-2.0,1.1,-0.9,-1.5,0.2,-2.6,-0.6,0.8,-1.3,-3.5,0.0,-0.4,-2.2,1.6,-1.0,-0.2,-1.8,-0.4,-1.7,0.6,-1.0,-2.3,0.1,-0.7,1.4,-1.4,-0.2,-2.9,0.9,-1.1,-0.5,0.3,-1.9,-3.2,-0.8,1.0,-0.1,
  -0.4,-1.7,0.6,-1.0,-2.3,0.1,-0.7,1.4,-1.4,-0.2,-2.9,0.9,-1.1,-0.5,0.3,-1.9,-3.2,-0.8,1.0,-0.1,-1.2,0.5,-0.3,-2.0,1.1,-0.9,-1.5,0.2,-2.6,-0.6,0.8,-1.3,-3.5,0.0,-0.4,-2.2,1.6,-1.0,-0.2,-1.8,
  -1.2,0.5,-0.3,-2.0,1.1,-0.9,-1.5,0.2,-2.6,-0.6,0.8,-1.3,-3.5,0.0,-0.4,-2.2,1.6,-1.0,-0.2,-1.8,-0.4,-1.7,0.6,-1.0,-2.3,0.1,-0.7,1.4,-1.4,-0.2,-2.9,0.9,-1.1,-0.5,0.3,-1.9,-3.2,-0.8,1.0,-0.1,
  -0.4,-1.7,0.6,-1.0,-2.3,0.1,-0.7,1.4,-1.4,-0.2,-2.9,0.9,-1.1,-0.5,0.3,-1.9,-3.2,-0.8,1.0,-0.1,-1.2,0.5,-0.3,-2.0,1.1,-0.9,-1.5,0.2,-2.6,-0.6,0.8,-1.3,-3.5,0.0,-0.4,-2.2,1.6,-1.0,-0.2,-1.8,
  -1.2,0.5,-0.3,-2.0,1.1,-0.9,-1.5,0.2,-2.6,-0.6,0.8,-1.3,-3.5,0.0,-0.4,-2.2,1.6,-1.0,-0.2,-1.8,-0.4,-1.7,0.6,-1.0,-2.3,0.1,-0.7,1.4,-1.4,-0.2,-2.9,0.9,-1.1,-0.5,0.3,-1.9,-3.2,-0.8,1.0,-0.1,
  -0.4,-1.7,0.6,-1.0,-2.3,0.1,-0.7,1.4,-1.4,-0.2,-2.9,0.9,-1.1,-0.5,0.3,-1.9,-3.2,-0.8,1.0,-0.1,-1.2,0.5,-0.3,-2.0,1.1,-0.9,-1.5,0.2,-2.6,-0.6,0.8,-1.3,-3.5,0.0,-0.4,-2.2,1.6,-1.0,-0.2,-1.8,
  -1.2,0.5,-0.3,-2.0,1.1,-0.9,-1.5,0.2,-2.6,-0.6,0.8,-1.3,-3.5,0.0,-0.4,-2.2,1.6,-1.0,-0.2,-1.8,-0.4,-1.7,0.6,-1.0,-2.3,0.1,-0.7,1.4,-1.4,-0.2,-2.9,0.9,-1.1,-0.5,0.3,-1.9,-3.2,-0.8,1.0,-0.1,
  -0.4,-1.7,0.6,-1.0,-2.3,0.1,-0.7,1.4,-1.4,-0.2,-2.9,0.9,-1.1,-0.5,0.3,-1.9,-3.2,-0.8,1.0,-0.1,-1.2,0.5,-0.3,-2.0,1.1,-0.9,-1.5,0.2,-2.6,-0.6,0.8,-1.3,-3.5,0.0,-0.4,-2.2,1.6,-1.0,-0.2,-1.8,
  -1.2,0.5,-0.3,-2.0,1.1,-0.9,-1.5,0.2,-2.6,-0.6,0.8,-1.3,-3.5,0.0,-0.4,-2.2,1.6,-1.0,-0.2,-1.8,-0.4,-1.7,0.6,-1.0,-2.3,0.1,-0.7,1.4,-1.4,-0.2,-2.9,0.9,-1.1,-0.5,0.3,-1.9,-3.2,-0.8,1.0,-0.1,
  -0.4,-1.7,0.6,-1.0,-2.3,0.1,-0.7,1.4,-1.4,-0.2,-2.9,0.9,-1.1,-0.5,0.3,-1.9,-3.2,-0.8,1.0,-0.1,-1.2,0.5,-0.3,-2.0,1.1,-0.9,-1.5,0.2,-2.6,-0.6,0.8,-1.3,-3.5,0.0,-0.4,-2.2,1.6,-1.0,-0.2,-1.8,
  -1.2,0.5,-0.3,-2.0,1.1,-0.9,-1.5,0.2,-2.6,-0.6,0.8,-1.3,-3.5,0.0,-0.4,-2.2,1.6,-1.0,-0.2,-1.8,-0.4,-1.7,0.6,-1.0,-2.3,0.1,-0.7,1.4,-1.4,-0.2,-2.9,0.9,-1.1,-0.5,0.3,-1.9,-3.2,-0.8,1.0,-0.1,
  -0.4,-1.7,0.6,-1.0,-2.3,0.1,-0.7,1.4,-1.4,-0.2,-2.9,0.9,-1.1,-0.5,0.3,-1.9,-3.2,-0.8,1.0,-0.1,-1.2,0.5,-0.3,-2.0,1.1,-0.9,-1.5,0.2,-2.6,-0.6,0.8,-1.3,-3.5,0.0,-0.4,-2.2,1.6,-1.0,-0.2,-1.8,
  -1.2,0.5,-0.3,-2.0,1.1,-0.9,-1.5,0.2,-2.6,-0.6,0.8,-1.3,-3.5,0.0,-0.4,-2.2,1.6,-1.0,-0.2,-1.8,-0.4,-1.7,0.6,-1.0,-2.3,0.1,-0.7,1.4,-1.4,-0.2,-2.9,0.9,-1.1,-0.5,0.3,-1.9,-3.2,-0.8,1.0,-0.1,
  -0.4,-1.7,0.6,-1.0,-2.3,0.1,-0.7,1.4,-1.4,-0.2,-2.9,0.9,-1.1,-0.5,0.3,-1.9,-3.2,-0.8,1.0,-0.1,-1.2,0.5,-0.3,-2.0,1.1,-0.9,-1.5,0.2,-2.6,-0.6,0.8,-1.3,-3.5,0.0,-0.4,-2.2,1.6,-1.0,-0.2,-1.8,
  -1.2,0.5,-0.3,-2.0,1.1,-0.9,-1.5,0.2,-2.6,-0.6,0.8,-1.3,-3.5,0.0,-0.4,-2.2,1.6,-1.0,-0.2,-1.8,-0.4,-1.7,0.6,-1.0,-2.3,0.1,-0.7,1.4,-1.4,-0.2,-2.9,0.9,-1.1,-0.5,0.3,-1.9,-3.2,-0.8,1.0,-0.1,
  -0.4,-1.7,0.6,-1.0,-2.3,0.1,-0.7,1.4,-1.4,-0.2,-2.9,0.9,-1.1,-0.5,0.3,-1.9,-3.2,-0.8,1.0,-0.1,-1.2,0.5,-0.3,-2.0,1.1,-0.9,-1.5,0.2,-2.6,-0.6,0.8,-1.3,-3.5,0.0,-0.4,-2.2,1.6,-1.0,-0.2,-1.8,
  -1.6,0.1,-0.7,-2.4,0.7,-1.3,-1.9,-0.2,-3.0,-1.0,0.4,-1.7,-3.9,-0.4,-0.8,-2.6,1.2,-1.4,-0.6,-2.2,-0.8,-2.1,0.2,-1.4,-2.7,-0.3,-1.1,1.0,-1.8,-0.6,-3.3,0.5,-1.5,-0.9,-0.1,-2.3,-3.6,-1.2,0.6,-0.5,
  -0.8,-2.1,0.2,-1.4,-2.7,-0.3,-1.1,1.0,-1.8,-0.6,-3.3,0.5,-1.5,-0.9,-0.1,-2.3,-3.6,-1.2,0.6,-0.5,-1.6,0.1,-0.7,-2.4,0.7,-1.3,-1.9,-0.2,-3.0,-1.0,0.4,-1.7,-3.9,-0.4,-0.8,-2.6,1.2,-1.4,-0.6,-2.2,
  -1.6,0.1,-0.7,-2.4,0.7,-1.3,-1.9,-0.2,-3.0,-1.0,0.4,-1.7,-3.9,-0.4,-0.8,-2.6,1.2,-1.4,-0.6,-2.2,-0.8,-2.1,0.2,-1.4,-2.7,-0.3,-1.1,1.0,-1.8,-0.6,-3.3,0.5,-1.5,-0.9,-0.1,-2.3,-3.6,-1.2,0.6,-0.5,
  -0.8,-2.1,0.2,-1.4,-2.7,-0.3,-1.1,1.0,-1.8,-0.6,-3.3,0.5,-1.5,-0.9,-0.1,-2.3,-3.6,-1.2,0.6,-0.5,-1.6,0.1,-0.7,-2.4,0.7,-1.3,-1.9,-0.2,-3.0,-1.0,0.4,-1.7,-3.9,-0.4,-0.8,-2.6,1.2,-1.4,-0.6,-2.2
];

// isolated points above the band
var highEnergy = [353,381,411,470,446,746,346,381,498,983,828,1352,1360,1166,1791,1900,2463,2859,2917,3011,3073,4510,4782,5295];
var highDiff = [4.57,4.67,5.03,4.95,4.30,4.95,3.48,3.53,3.56,4.08,3.65,3.73,3.37,3.43,3.16,2.72,2.59,2.67,2.50,2.63,2.75,2.26,2.06,1.93];

// isolated points below the band
var lowEnergy = [
  551,749,1006,983,1146,1169,948,1414,1577,1589,1624,1632,1659,1682,1728,1600,1355,1705,1880,1915,
  1915,2020,1938,1845,2183,2253,2288,2288,2393,2381,2369,2346,2323,2486,2533,2556,2541,2626,2684,2742,
  2777,2789,2836,2707,2707,2707,2824,2894,2964,2777,2766,2766,2894,2975,
  3092,3139,3267,3302,3290,3380,3080,3232,3337,3360,3488,3558,3605,3512,3523,3570,3710,3663,3780,3850,
  3815,3710,3756,3745,3966,4025,4059,4036,3966,4059,4036,4153,4211,4293,4246,4176,4246,4328,4386,4339,
  4386,4386,4409,4339,4514,4526,4572,4607,4654,4654,4689,4654,4712,4537,4700,4666,4619,4712,4654,4794,
  4782,4829,4910,4980,5038,5015,5085,5132,5132,5027,5027,5073,5015,4980,4969,4910,4864,5108,5097,5225,
  5225,5272,5295,5353,5213,5237,5225,5260,5283,5283,
  370,408,584,626,703,917,1131,1247,1538,2101,2374,2568,2801,2879,1052,1364,1791,2257,2607,3073,
  3228,3423,3617,3811,4005,4161,4355,4589,4782,4977,5093,5248,5365,5326
];
var lowDiff = [
  -10.06,-9.40,-9.24,-10.22,-9.65,-10.22,-13.89,-8.75,-8.75,-9.16,-8.70,-8.70,-8.54,-9.08,-9.00,-12.75,-18.46,-18.54,-9.24,-8.62,
  -8.75,-10.06,-10.79,-11.53,-12.42,-9.00,-9.16,-9.32,-9.16,-9.49,-9.73,-10.95,-15.93,-11.69,-8.59,-12.83,-22.36,-10.46,-8.67,-8.83,
  -8.59,-8.51,-8.59,-9.24,-9.73,-10.55,-9.73,-9.81,-9.40,-13.73,-16.17,-21.15,-12.26,-8.59,
  -8.54,-9.40,-8.83,-8.75,-9.40,-8.48,-11.36,-12.50,-11.44,-14.38,-9.08,-9.57,-9.32,-10.22,-11.77,-11.85,-10.55,-11.04,-10.71,-10.30,
  -8.83,-14.14,-16.75,-17.32,-8.83,-8.83,-9.65,-10.63,-12.18,-16.50,-16.83,-13.32,-8.92,-9.49,-10.30,-10.71,-16.91,-8.83,-8.75,-10.22,
  -10.46,-12.18,-13.48,-14.79,-9.57,-9.16,-9.57,-8.51,-8.67,-8.92,-9.57,-10.63,-10.95,-11.04,-13.32,-13.81,-15.20,-15.03,-16.17,-17.89,
  -9.08,-10.79,-11.12,-8.51,-8.51,-9.32,-9.00,-9.00,-9.32,-10.46,-11.44,-11.53,-11.53,-12.34,-13.32,-13.89,-14.22,-14.22,-14.95,-9.16,
  -9.40,-9.49,-8.67,-9.00,-10.38,-10.55,-10.71,-9.98,-9.89,-12.01,
  -5.6,-7.3,-5.4,-7.1,-7.5,-7.9,-7.8,-7.8,-7.4,-7.5,-7.8,-8.2,-7.5,-8.1,-6.2,-6.4,-6.2,-6.4,-6.2,-7.5,
  -6.7,-8.2,-7.3,-8.1,-7.0,-7.7,-8.2,-7.1,-7.8,-8.2,-7.0,-7.5,-6.4,-8.1
];

var energy = bandEnergy.concat(coreEnergy, core2Energy, highEnergy, lowEnergy);
var diff = bandDiff.concat(coreDiff, core2Diff, highDiff, lowDiff);

var points = [];
for (var i in energy) {
	points.push({x: energy[i], y: diff[i]});
}
var eMin = Math.min.apply(null, energy);
var eMax = Math.max.apply(null, energy);

var FONT = '"DejaVu Sans", sans-serif';
var GREEN = 'rgba(0, 128, 0, 0.72)';

// title lines and legend drawn on top
var decorPlugin = {
	id: 'decor',
	afterDraw: function(chart) {
		var c = chart.ctx, a = chart.chartArea;
		var R = Math.round(a.right), T = Math.round(a.top);
		c.save();
		c.fillStyle = '#000';

		// title
		var cx = (a.left + a.right) / 2;
		c.textBaseline = 'middle';
		c.textAlign = 'center';
		c.font = '16.7px ' + FONT;
		c.fillText(titleText[0], cx, 18);

		var reg = '16.7px ' + FONT, sup = '11.5px ' + FONT;
		var parts = [
			{t: '\u03d5', f: 'italic ' + reg, dy: 0},
			{t: ' = 0', f: reg, dy: 0},
			{t: '\u2218', f: sup, dy: -6},
			{t: ' to 29', f: reg, dy: 0},
			{t: '\u2218', f: sup, dy: -6}
		];
		var w = 0;
		parts.forEach(function(p) { c.font = p.f; p.w = c.measureText(p.t).width; w += p.w; });
		var x = cx - w / 2;
		c.textAlign = 'left';
		parts.forEach(function(p) {
			c.font = p.f;
			c.fillText(p.t, x, 41 + p.dy);
			x += p.w;
		});

		// legend
		var bx = R - 140.5, by = T + 7.5, bw = 135, bh = 26;
		c.beginPath();
		c.roundRect(bx, by, bw, bh, 3);
		c.fillStyle = 'rgba(255,255,255,0.8)';
		c.fill();
		c.strokeStyle = 'rgba(204,204,204,0.9)';
		c.lineWidth = 1;
		c.stroke();
		c.beginPath();
		c.arc(bx + 19, by + 12.5, 1.4, 0, Math.PI * 2);
		c.fillStyle = GREEN;
		c.fill();
		c.fillStyle = '#000';
		c.font = '14px ' + FONT;
		c.textBaseline = 'middle';
		c.fillText(chart.data.datasets[1].label, bx + 44, by + 13);
		c.restore();
	}
};

// empty axes on top and right give the closed frame
var frameAxis = function(pos) {
	return {
		type: 'linear',
		position: pos,
		display: true,
		min: 0,
		max: 1,
		ticks: { display: false },
		grid: { display: false, drawTicks: false },
		border: { display: true, color: '#000', width: 1 },
		afterFit: function(s) {
			if (pos === 'top') s.height = 0; else s.width = 0;
		}
	};
};

var ctx = document.getElementById('mycanvas');

var graph = new Chart(ctx, {
	type: 'scatter',
	data: {
		datasets: [
			{
				type: 'line',
				label: 'zero',
				data: [{x: eMin, y: refLevel}, {x: eMax, y: refLevel}],
				borderColor: '#000',
				borderWidth: 3,
				borderDash: [9.5, 4.5],
				pointRadius: 0,
				fill: false,
				order: 0
			},
			{
				label: seriesLabel,
				data: points,
				pointRadius: 1.45,
				pointBorderWidth: 0,
				backgroundColor: GREEN,
				borderColor: GREEN,
				order: 1
			}
		]
	},
	options: {
		responsive: false,
		animation: false,
		devicePixelRatio: 1,
		layout: { padding: { left: 0, right: 65, top: 58, bottom: 0 } },
		plugins: {
			legend: { display: false },
			title: { display: false },
			tooltip: { enabled: false }
		},
		scales: {
			x: {
				type: 'linear',
				position: 'bottom',
				min: 82,
				max: 5851,
				afterBuildTicks: function(s) { s.ticks = xTicks.map(function(v) { return {value: v}; }); },
				afterFit: function(s) { s.height = 53; },
				grid: { drawOnChartArea: false, drawTicks: true, tickLength: 5, color: '#000' },
				border: { display: true, color: '#000', width: 1 },
				ticks: {
					color: '#000',
					font: { family: FONT, size: 14 },
					padding: 2,
					maxRotation: 0,
					callback: function(v) { return String(v); }
				},
				title: {
					display: true,
					text: 'Total Deposited Energy in MeV (60 Layers)',
					color: '#000',
					font: { family: FONT, size: 14 },
					padding: { top: 0, bottom: 8 }
				}
			},
			y: {
				type: 'linear',
				position: 'left',
				min: -23.78,
				max: 6.36,
				afterBuildTicks: function(s) { s.ticks = yTicks.map(function(v) { return {value: v}; }); },
				afterFit: function(s) { s.width = 80; },
				grid: { drawOnChartArea: false, drawTicks: true, tickLength: 5, color: '#000' },
				border: { display: true, color: '#000', width: 1 },
				ticks: {
					color: '#000',
					font: { family: FONT, size: 14 },
					padding: 4,
					callback: function(v) { return String(v).replace('-', '\u2212'); }
				},
				title: {
					display: true,
					text: 'Difference Between 16+8 Layers and 60 Layers (%)',
					color: '#000',
					font: { family: FONT, size: 14 },
					padding: { top: 19, bottom: 0 }
				}
			},
			xTop: frameAxis('top'),
			yRight: frameAxis('right')
		}
	},
	plugins: [decorPlugin]
});
</script>
</body>
</html>
